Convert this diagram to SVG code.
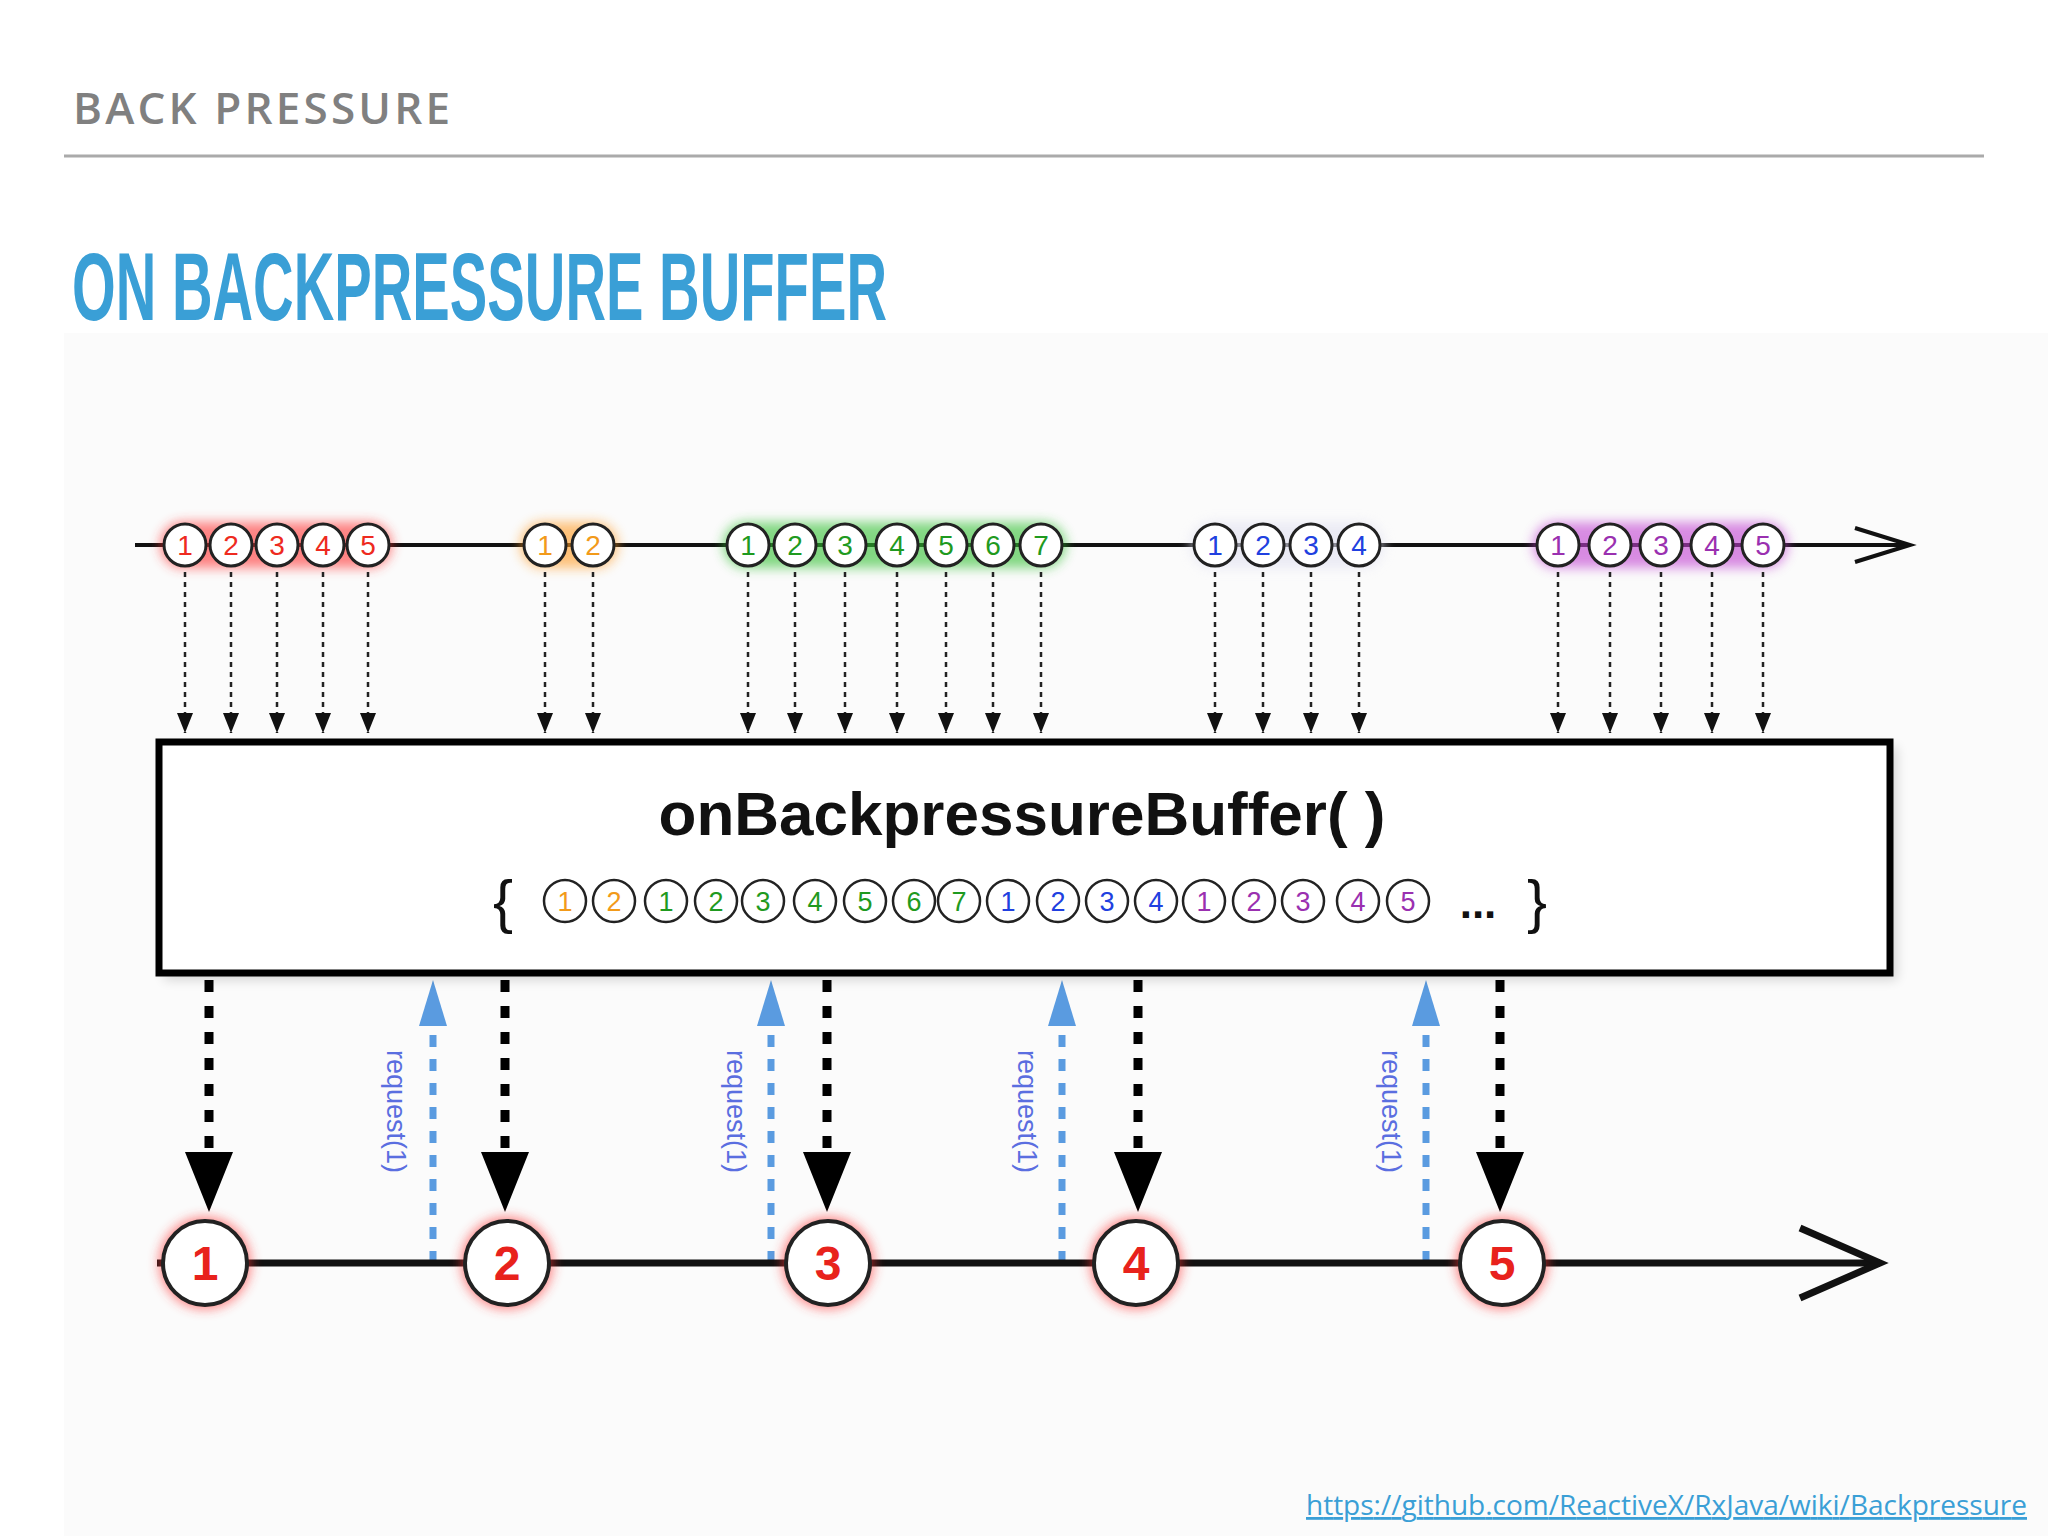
<svg xmlns="http://www.w3.org/2000/svg" width="2048" height="1536" viewBox="0 0 2048 1536">
<defs>
<style>
.tc{stroke:#222;stroke-width:3;fill:#fff}
.tn{font-family:"Liberation Sans",Arial,sans-serif;font-size:28px;text-anchor:middle}
.bn{font-family:"Liberation Sans",Arial,sans-serif;font-size:27px;text-anchor:middle}
.dot{stroke:#222;stroke-width:2.5;stroke-dasharray:5,5;fill:none}
.big{stroke:#000;stroke-width:9;stroke-dasharray:12,14;fill:none}
.req{stroke:#5a9be0;stroke-width:7;stroke-dasharray:12,12;fill:none}
.rl{font-family:"Liberation Sans",Arial,sans-serif;font-size:27px;fill:#5a6ee0}
.on{font-family:"Liberation Sans",Arial,sans-serif;font-size:48px;font-weight:bold;fill:#e8221c;text-anchor:middle}
</style>
<filter id="glow" x="-50%" y="-50%" width="200%" height="200%"><feGaussianBlur stdDeviation="6"/></filter>
<marker id="ta" markerWidth="20" markerHeight="16" refX="20" refY="8" orient="auto" markerUnits="userSpaceOnUse" viewBox="0 0 20 16"><path d="M0,0 L20,8 L0,16z" fill="#111"/></marker>
</defs>
<rect width="2048" height="1536" fill="#fff"/>
<text x="73" y="124" font-family="'Open Sans','DejaVu Sans',sans-serif" font-size="44" font-weight="600" fill="#808080" letter-spacing="3" textLength="380">BACK PRESSURE</text>
<line x1="64" y1="156" x2="1984" y2="156" stroke="#aaa" stroke-width="3"/>
<text x="72" y="320" font-family="'Liberation Sans',Arial,sans-serif" font-size="96" font-weight="bold" fill="#3a9fd6" textLength="815" lengthAdjust="spacingAndGlyphs">ON BACKPRESSURE BUFFER</text>
<rect x="64" y="333" width="1984" height="1203" fill="#fbfbfb"/>

<g id="source">
<line x1="135" y1="545" x2="1905" y2="545" stroke="#111" stroke-width="4"/>
<path d="M1855,528 L1910,545 L1855,562" fill="none" stroke="#111" stroke-width="4"/>
<g filter="url(#glow)" opacity="0.6"><rect x="160" y="522" width="232" height="46" rx="23" fill="#ff3030"/><rect x="520" y="522" width="98" height="46" rx="23" fill="#ff9a20"/><rect x="723" y="522" width="343" height="46" rx="23" fill="#30c030"/><rect x="1190" y="522" width="194" height="46" rx="23" fill="#e0e0f0"/><rect x="1533" y="522" width="255" height="46" rx="23" fill="#c040d0"/></g>
</g>
<g id="top-items">
<g fill="#ee2a20"><circle class="tc" cx="185" cy="545" r="21"/><circle class="tc" cx="231" cy="545" r="21"/><circle class="tc" cx="277" cy="545" r="21"/><circle class="tc" cx="323" cy="545" r="21"/><circle class="tc" cx="368" cy="545" r="21"/>
<text class="tn" x="185" y="555">1</text><text class="tn" x="231" y="555">2</text><text class="tn" x="277" y="555">3</text><text class="tn" x="323" y="555">4</text><text class="tn" x="368" y="555">5</text></g>
<g fill="#f29a1a"><circle class="tc" cx="545" cy="545" r="21"/><circle class="tc" cx="593" cy="545" r="21"/><text class="tn" x="545" y="555">1</text><text class="tn" x="593" y="555">2</text></g>
<g fill="#1f9a1f"><circle class="tc" cx="748" cy="545" r="21"/><circle class="tc" cx="795" cy="545" r="21"/><circle class="tc" cx="845" cy="545" r="21"/><circle class="tc" cx="897" cy="545" r="21"/><circle class="tc" cx="946" cy="545" r="21"/><circle class="tc" cx="993" cy="545" r="21"/><circle class="tc" cx="1041" cy="545" r="21"/>
<text class="tn" x="748" y="555">1</text><text class="tn" x="795" y="555">2</text><text class="tn" x="845" y="555">3</text><text class="tn" x="897" y="555">4</text><text class="tn" x="946" y="555">5</text><text class="tn" x="993" y="555">6</text><text class="tn" x="1041" y="555">7</text></g>
<g fill="#2040e0"><circle class="tc" cx="1215" cy="545" r="21"/><circle class="tc" cx="1263" cy="545" r="21"/><circle class="tc" cx="1311" cy="545" r="21"/><circle class="tc" cx="1359" cy="545" r="21"/>
<text class="tn" x="1215" y="555">1</text><text class="tn" x="1263" y="555">2</text><text class="tn" x="1311" y="555">3</text><text class="tn" x="1359" y="555">4</text></g>
<g fill="#9a30b0"><circle class="tc" cx="1558" cy="545" r="21"/><circle class="tc" cx="1610" cy="545" r="21"/><circle class="tc" cx="1661" cy="545" r="21"/><circle class="tc" cx="1712" cy="545" r="21"/><circle class="tc" cx="1763" cy="545" r="21"/>
<text class="tn" x="1558" y="555">1</text><text class="tn" x="1610" y="555">2</text><text class="tn" x="1661" y="555">3</text><text class="tn" x="1712" y="555">4</text><text class="tn" x="1763" y="555">5</text></g>
</g>

<g id="connectors">
<g class="dot" marker-end="url(#ta)">
<line x1="185" y1="572" x2="185" y2="733"/><line x1="231" y1="572" x2="231" y2="733"/><line x1="277" y1="572" x2="277" y2="733"/><line x1="323" y1="572" x2="323" y2="733"/><line x1="368" y1="572" x2="368" y2="733"/>
<line x1="545" y1="572" x2="545" y2="733"/><line x1="593" y1="572" x2="593" y2="733"/>
<line x1="748" y1="572" x2="748" y2="733"/><line x1="795" y1="572" x2="795" y2="733"/><line x1="845" y1="572" x2="845" y2="733"/><line x1="897" y1="572" x2="897" y2="733"/><line x1="946" y1="572" x2="946" y2="733"/><line x1="993" y1="572" x2="993" y2="733"/><line x1="1041" y1="572" x2="1041" y2="733"/>
<line x1="1215" y1="572" x2="1215" y2="733"/><line x1="1263" y1="572" x2="1263" y2="733"/><line x1="1311" y1="572" x2="1311" y2="733"/><line x1="1359" y1="572" x2="1359" y2="733"/>
<line x1="1558" y1="572" x2="1558" y2="733"/><line x1="1610" y1="572" x2="1610" y2="733"/><line x1="1661" y1="572" x2="1661" y2="733"/><line x1="1712" y1="572" x2="1712" y2="733"/><line x1="1763" y1="572" x2="1763" y2="733"/>
</g>
<g class="big"><line x1="209" y1="980" x2="209" y2="1150"/><line x1="505" y1="980" x2="505" y2="1150"/><line x1="827" y1="980" x2="827" y2="1150"/><line x1="1138" y1="980" x2="1138" y2="1150"/><line x1="1500" y1="980" x2="1500" y2="1150"/></g>
<g fill="#000"><path d="M185,1152 L233,1152 L209,1212z"/><path d="M481,1152 L529,1152 L505,1212z"/><path d="M803,1152 L851,1152 L827,1212z"/><path d="M1114,1152 L1162,1152 L1138,1212z"/><path d="M1476,1152 L1524,1152 L1500,1212z"/></g>
<g class="req"><line x1="433" y1="1263" x2="433" y2="1022"/><line x1="771" y1="1263" x2="771" y2="1022"/><line x1="1062" y1="1263" x2="1062" y2="1022"/><line x1="1426" y1="1263" x2="1426" y2="1022"/></g>
<g fill="#5a9be0"><path d="M419,1026 L447,1026 L433,980z"/><path d="M757,1026 L785,1026 L771,980z"/><path d="M1048,1026 L1076,1026 L1062,980z"/><path d="M1412,1026 L1440,1026 L1426,980z"/></g>
<text class="rl" transform="translate(387,1050) rotate(90)">request(1)</text>
<text class="rl" transform="translate(727,1050) rotate(90)">request(1)</text>
<text class="rl" transform="translate(1018,1050) rotate(90)">request(1)</text>
<text class="rl" transform="translate(1382,1050) rotate(90)">request(1)</text>
</g>

<g id="operator">
<rect x="164" y="747" width="1733" height="233" fill="#000" opacity="0.15" filter="url(#glow)"/>
<rect x="159" y="742" width="1731" height="231" fill="#fff" stroke="#000" stroke-width="7"/>
<text x="1022" y="835" font-family="'Liberation Sans',Arial,sans-serif" font-size="62" font-weight="bold" text-anchor="middle" fill="#111">onBackpressureBuffer( )</text>
<text x="503" y="922" font-family="'Liberation Sans',Arial,sans-serif" font-size="60" text-anchor="middle" fill="#111">{</text>
<text x="1478" y="918" font-family="'Liberation Sans',Arial,sans-serif" font-size="44" font-weight="bold" text-anchor="middle" fill="#111">...</text>
<text x="1537" y="922" font-family="'Liberation Sans',Arial,sans-serif" font-size="60" text-anchor="middle" fill="#111">}</text>
<g class="tc" style="stroke-width:2.5"><circle cx="565" cy="901" r="21"/><circle cx="614" cy="901" r="21"/><circle cx="666" cy="901" r="21"/><circle cx="716" cy="901" r="21"/><circle cx="763" cy="901" r="21"/><circle cx="815" cy="901" r="21"/><circle cx="865" cy="901" r="21"/><circle cx="914" cy="901" r="21"/><circle cx="959" cy="901" r="21"/><circle cx="1008" cy="901" r="21"/><circle cx="1058" cy="901" r="21"/><circle cx="1107" cy="901" r="21"/><circle cx="1156" cy="901" r="21"/><circle cx="1204" cy="901" r="21"/><circle cx="1254" cy="901" r="21"/><circle cx="1303" cy="901" r="21"/><circle cx="1358" cy="901" r="21"/><circle cx="1408" cy="901" r="21"/></g>
<g fill="#f29a1a"><text class="bn" x="565" y="911">1</text><text class="bn" x="614" y="911">2</text></g>
<g fill="#1f9a1f"><text class="bn" x="666" y="911">1</text><text class="bn" x="716" y="911">2</text><text class="bn" x="763" y="911">3</text><text class="bn" x="815" y="911">4</text><text class="bn" x="865" y="911">5</text><text class="bn" x="914" y="911">6</text><text class="bn" x="959" y="911">7</text></g>
<g fill="#2040e0"><text class="bn" x="1008" y="911">1</text><text class="bn" x="1058" y="911">2</text><text class="bn" x="1107" y="911">3</text><text class="bn" x="1156" y="911">4</text></g>
<g fill="#9a30b0"><text class="bn" x="1204" y="911">1</text><text class="bn" x="1254" y="911">2</text><text class="bn" x="1303" y="911">3</text><text class="bn" x="1358" y="911">4</text><text class="bn" x="1408" y="911">5</text></g>
</g>

<g id="output">
<line x1="157" y1="1263" x2="1878" y2="1263" stroke="#111" stroke-width="7"/>
<path d="M1800,1228 L1880,1263 L1800,1298" fill="none" stroke="#111" stroke-width="7"/>
<g fill="#ff3030" opacity="0.6" filter="url(#glow)"><circle cx="205" cy="1263" r="46"/><circle cx="507" cy="1263" r="46"/><circle cx="828" cy="1263" r="46"/><circle cx="1136" cy="1263" r="46"/><circle cx="1502" cy="1263" r="46"/></g>
<g class="tc" style="stroke-width:4"><circle cx="205" cy="1263" r="42"/><circle cx="507" cy="1263" r="42"/><circle cx="828" cy="1263" r="42"/><circle cx="1136" cy="1263" r="42"/><circle cx="1502" cy="1263" r="42"/></g>
<text class="on" x="205" y="1280">1</text><text class="on" x="507" y="1280">2</text><text class="on" x="828" y="1280">3</text><text class="on" x="1136" y="1280">4</text><text class="on" x="1502" y="1280">5</text>
</g>
<text x="2027" y="1515" text-anchor="end" font-family="'Open Sans','DejaVu Sans',sans-serif" font-size="28" fill="#3a9fd6" text-decoration="underline" textLength="721">https://github.com/ReactiveX/RxJava/wiki/Backpressure</text>
</svg>
